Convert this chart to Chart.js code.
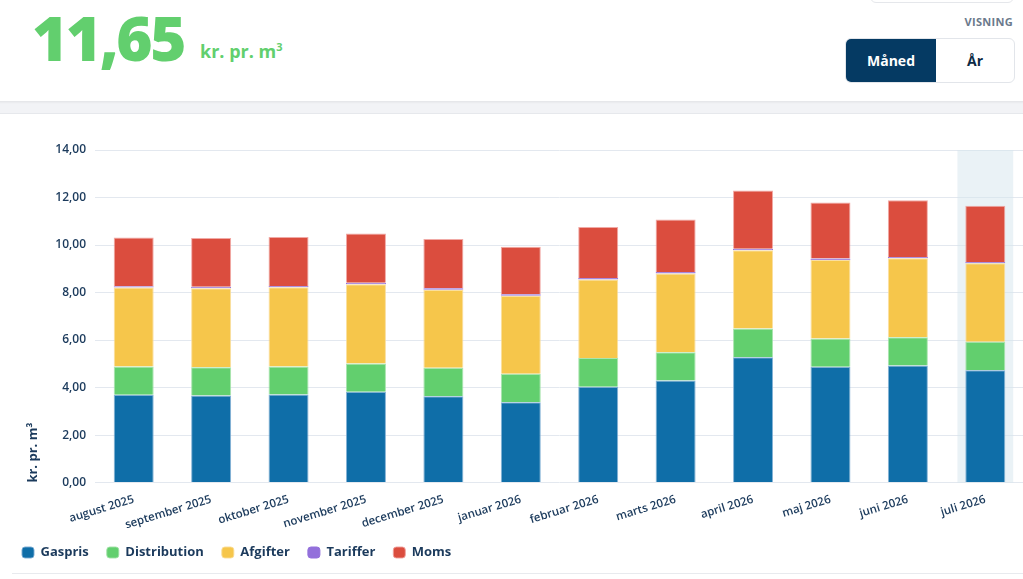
<!DOCTYPE html>
<html>
<head>
<meta charset="utf-8">
<script src="https://cdn.jsdelivr.net/npm/chart.js@4.4.1/dist/chart.umd.min.js"></script>
<style>
  html, body { margin:0; padding:0; width:1023px; height:579px; overflow:hidden; background:#f2f3f6; font-family:"Open Sans", sans-serif; }
  .card1 { position:absolute; left:-10px; top:-20px; width:1050px; height:121px; background:#fff; border-radius:9px; box-shadow:0 1px 3px rgba(0,0,0,0.08); }
  .card2 { position:absolute; left:-10px; top:113px; width:1050px; height:500px; background:#fff; border-radius:9px; border:1px solid #e6e8ec; }
  .topbox { position:absolute; left:870px; top:-30px; width:142px; height:31px; border:1px solid #e5e7eb; border-radius:6px; background:#fff; }
  .big { position:absolute; left:32px; top:-8px; font-size:62px; font-weight:800; color:#62cf6e; letter-spacing:-2.5px; line-height:90px; }
  .unit { position:absolute; left:200px; top:39px; font-size:18px; font-weight:700; color:#62cf6e; }
  .unit sup { font-size:11px; vertical-align:7px; }
  .visning { position:absolute; right:10px; top:14px; font-size:11px; font-weight:700; color:#6b7a8c; letter-spacing:0.3px; }
  .toggle { position:absolute; left:845px; top:38px; width:168px; height:43px; border:1px solid #e2e5ea; border-radius:6px; overflow:hidden; display:flex; background:#fff; }
  .toggle div { display:flex; align-items:center; justify-content:center; font-size:14px; font-weight:700; }
  .t1 { width:90px; background:#053a63; color:#fff; }
  .t2 { flex:1; color:#0d2a45; }
  .sep { position:absolute; left:12px; right:0; top:573px; height:1px; background:#e8eaee; }
  #wrap { position:absolute; left:0; top:118px; width:1024px; height:455px; }
</style>
</head>
<body>
<div class="card1"></div>
<div class="card2"></div>
<div class="topbox"></div>
<div class="big">11,65</div>
<div class="unit">kr. pr. m<sup>3</sup></div>
<div class="visning">VISNING</div>
<div class="toggle"><div class="t1">Måned</div><div class="t2">År</div></div>
<div class="sep"></div>
<div id="wrap"><canvas id="c"></canvas></div>
<script>
const categories = ["august 2025","september 2025","oktober 2025","november 2025","december 2025","januar 2026","februar 2026","marts 2026","april 2026","maj 2026","juni 2026","juli 2026"];
const gaspris      = [3.70, 3.67, 3.71, 3.82, 3.63, 3.38, 4.04, 4.30, 5.28, 4.88, 4.93, 4.73];
const distribution = [1.19, 1.19, 1.18, 1.19, 1.20, 1.20, 1.20, 1.19, 1.21, 1.19, 1.19, 1.20];
const afgifter     = [3.32, 3.32, 3.33, 3.34, 3.29, 3.29, 3.31, 3.31, 3.29, 3.30, 3.32, 3.30];
const tariffer     = [0.06, 0.06, 0.06, 0.06, 0.06, 0.06, 0.06, 0.07, 0.06, 0.06, 0.06, 0.06];
const moms         = [2.05, 2.06, 2.06, 2.08, 2.07, 2.00, 2.15, 2.20, 2.46, 2.36, 2.38, 2.36];
const yTicks = [0, 2, 4, 6, 8, 10, 12, 14];
const highlightIndex = 11;

const navy = "#1b3a5c";
const highlight = {
  id: "highlight",
  beforeDatasetsDraw(chart) {
    const x = chart.scales.x, a = chart.chartArea, ctx = chart.ctx;
    const cx = x.getPixelForValue(highlightIndex);
    const w = (x.getPixelForValue(1) - x.getPixelForValue(0)) * 0.72;
    ctx.save();
    ctx.fillStyle = "rgba(214,229,238,0.5)";
    ctx.fillRect(cx - w/2, a.top, w, a.bottom - a.top);
    ctx.restore();
  }
};

function ds(label, data, color, border) {
  return { label, data, backgroundColor: color, borderColor: border, borderWidth: 1,
           barPercentage: 0.646, categoryPercentage: 0.8 };
}

new Chart(document.getElementById("c"), {
  type: "bar",
  data: {
    labels: categories,
    datasets: [
      ds("Gaspris", gaspris, "#0f6ea8", "rgba(120,170,210,0.9)"),
      ds("Distribution", distribution, "#62cf6e", "rgba(160,225,165,0.9)"),
      ds("Afgifter", afgifter, "#f6c64b", "rgba(250,220,150,0.9)"),
      ds("Tariffer", tariffer, "#9370db", "rgba(147,112,219,1)"),
      ds("Moms", moms, "#db4d3e", "rgba(240,160,155,0.9)")
    ]
  },
  plugins: [highlight],
  options: {
    responsive: true,
    maintainAspectRatio: false,
    animation: false,
    layout: { padding: { left: 4, right: 0, top: 32, bottom: 4 } },
    plugins: {
      tooltip: { enabled: false },
      legend: {
        position: "bottom",
        align: "start",
        labels: {
          color: navy,
          font: { family: "Open Sans", size: 13, weight: "bold" },
          boxWidth: 12, boxHeight: 11, useBorderRadius: true, borderRadius: 3,
          padding: 18
        }
      }
    },
    scales: {
      x: {
        stacked: true,
        grid: { display: false },
        border: { display: false },
        afterFit(s) { s.height -= 6; },
        ticks: { color: navy, font: { family: "Open Sans", size: 11.5, weight: "600" }, minRotation: 17, maxRotation: 17, padding: 2 }
      },
      y: {
        stacked: true,
        min: 0, max: 14,
        afterBuildTicks(s) { s.ticks = yTicks.map(v => ({ value: v })); },
        afterFit(s) { s.width = 91; },
        grid: { color: "#e3e8ef", drawTicks: false },
        border: { display: false },
        ticks: { color: navy, padding: 9, font: { family: "Open Sans", size: 12, weight: "600" },
                 callback: v => v.toFixed(2).replace(".", ",") },
        title: { display: true, text: "kr. pr. m³", align: "start", color: navy,
                 font: { family: "Open Sans", size: 13, weight: "bold" }, padding: { top: 21, bottom: 4 } }
      }
    }
  }
});
</script>
</body>
</html>
